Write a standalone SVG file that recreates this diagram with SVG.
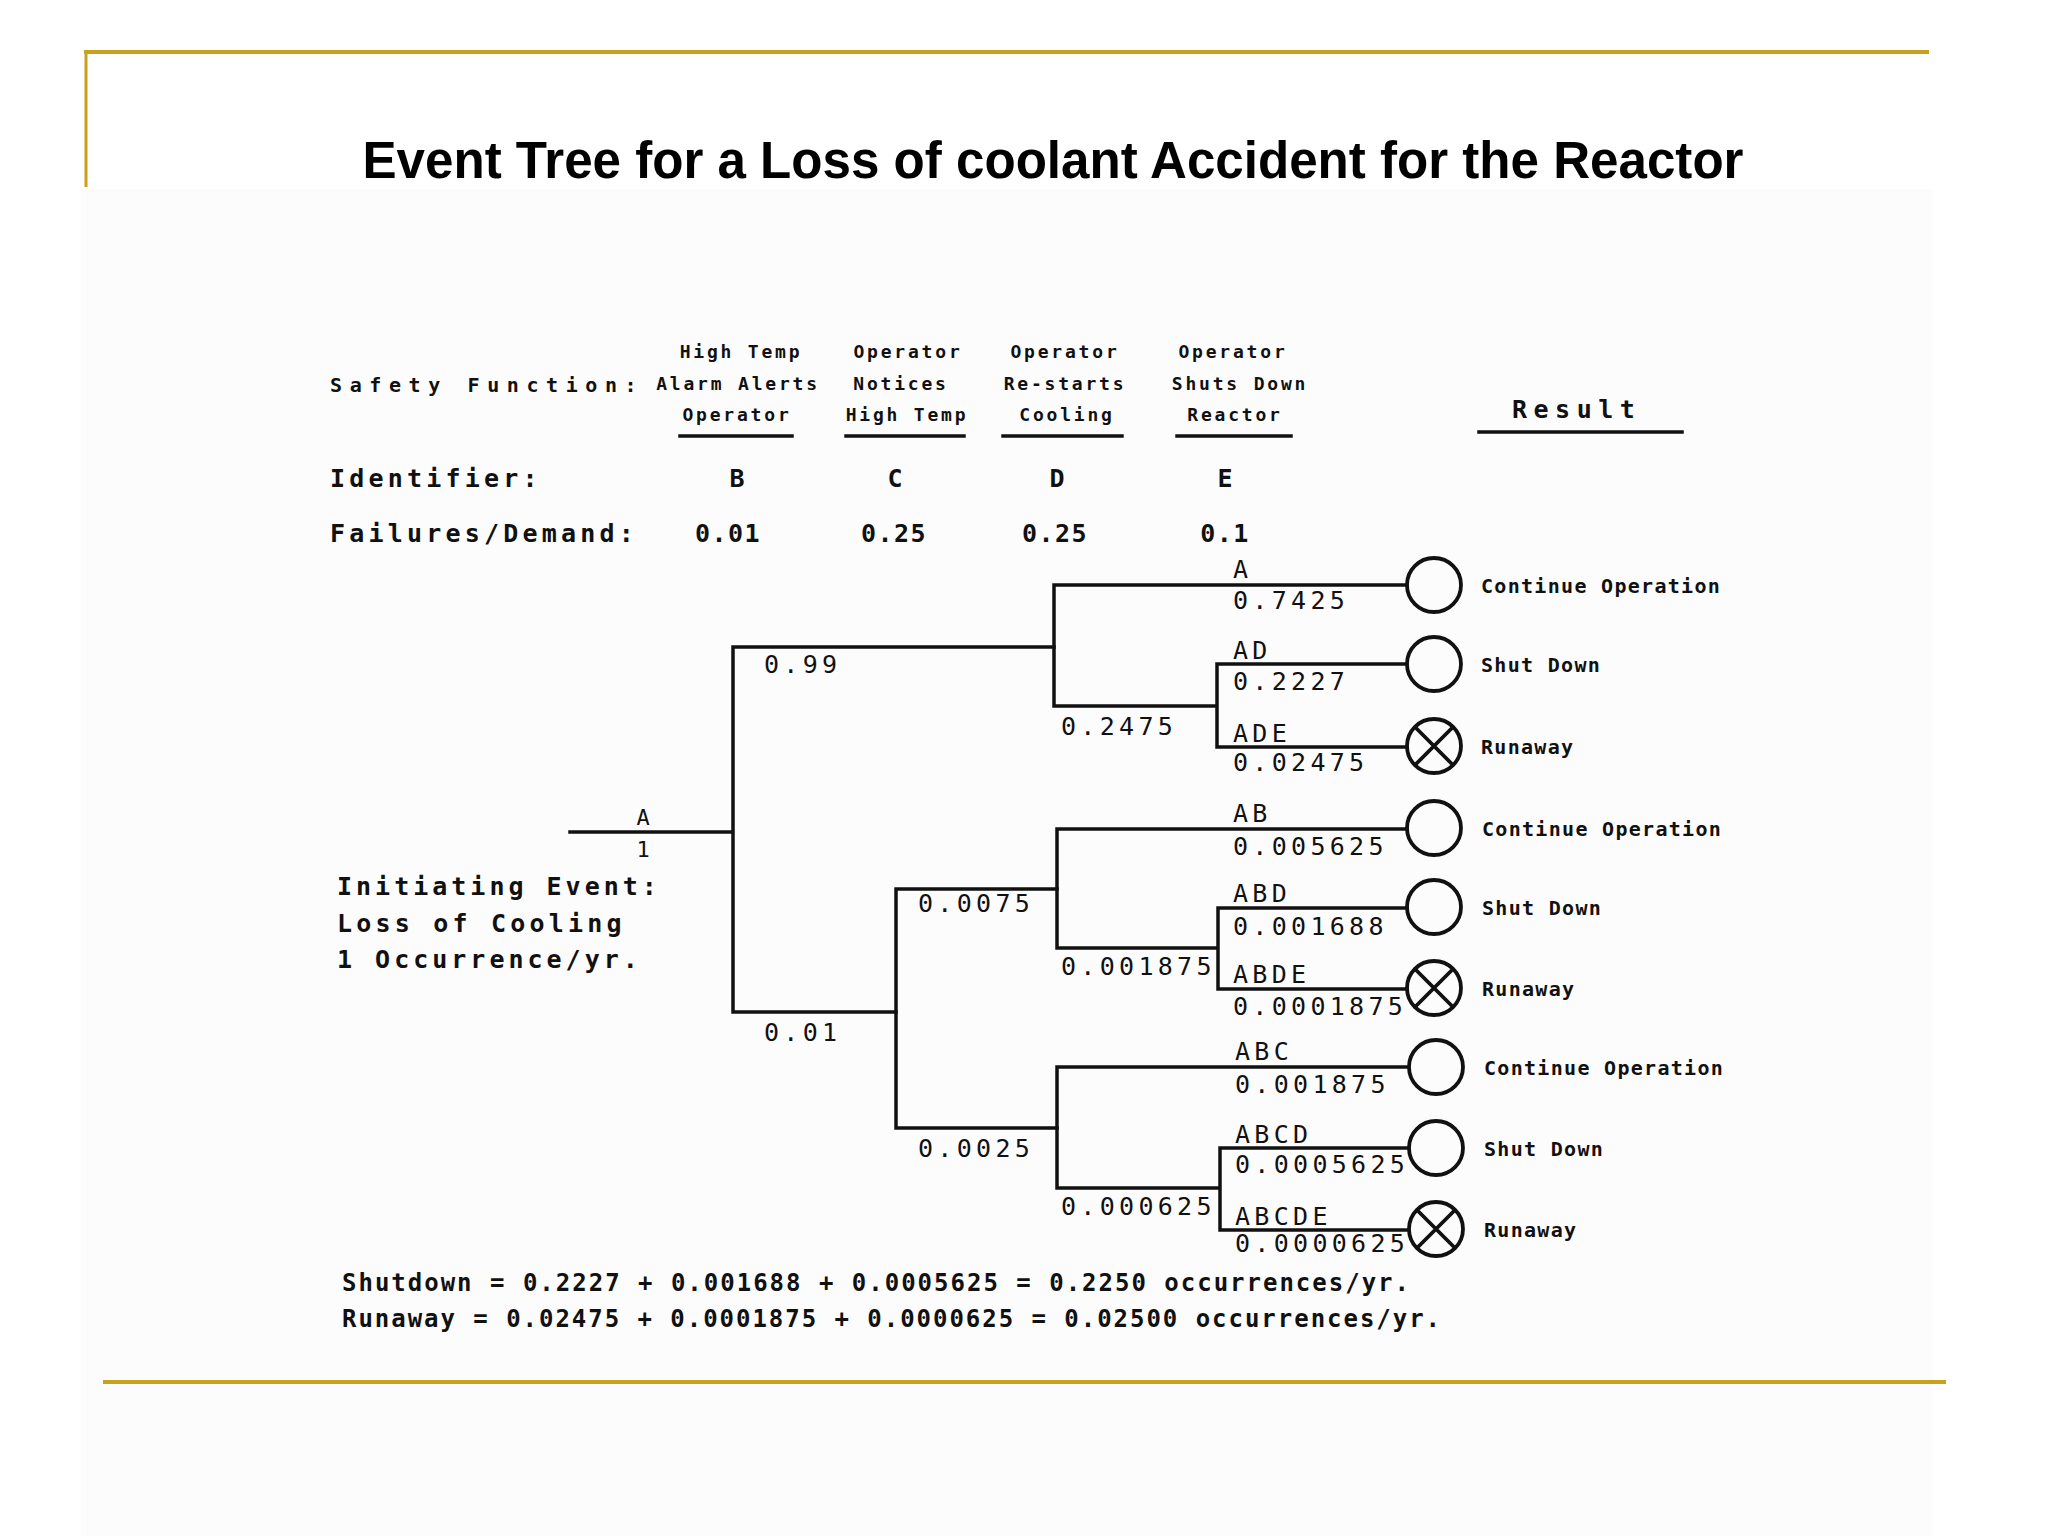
<svg xmlns="http://www.w3.org/2000/svg" width="2048" height="1536" viewBox="0 0 2048 1536">
<style>
.gold{stroke:#C8A21E;fill:none}
.ln{stroke:#111;stroke-width:3.5;fill:none;stroke-linecap:square}
.title{font-family:"Liberation Sans",Arial,sans-serif;font-weight:bold;font-size:51px;fill:#000}
.hd{font-family:"DejaVu Sans Mono",monospace;font-weight:bold;font-size:18px;letter-spacing:2.8px;fill:#111;text-anchor:middle}
.lab{font-family:"DejaVu Sans Mono",monospace;font-weight:bold;font-size:25px;fill:#111}
.num{font-family:"DejaVu Sans Mono",monospace;font-size:25px;letter-spacing:4.3px;fill:#111}
.res{font-family:"DejaVu Sans Mono",monospace;font-weight:bold;font-size:20px;letter-spacing:1.3px;fill:#111}
.frm{font-family:"DejaVu Sans Mono",monospace;font-weight:bold;font-size:24px;fill:#111}
.oc{stroke:#111;stroke-width:3.8;fill:none}
</style>
<defs>
<g id="okc"><circle class="oc" cx="0" cy="0" r="27"/></g>
<g id="runc"><circle class="oc" cx="0" cy="0" r="27"/><path class="oc" d="M-19,-19 L19,19 M19,-19 L-19,19"/></g>
</defs>
<rect x="0" y="0" width="2048" height="1536" fill="#ffffff"/>
<rect x="81" y="189" width="1852" height="1347" fill="#fdfcfd"/>
<g id="frame">
<line class="gold" x1="84" y1="52" x2="1929" y2="52" stroke-width="4"/>
<line class="gold" x1="86" y1="52" x2="86" y2="187" stroke-width="3"/>
<line class="gold" x1="103" y1="1382" x2="1946" y2="1382" stroke-width="4"/>
</g>
<g id="title"><text class="title" x="1053" y="178" text-anchor="middle" textLength="1381" lengthAdjust="spacingAndGlyphs">Event Tree for a Loss of coolant Accident for the Reactor</text></g>

<g id="header-labels">
<text class="lab" x="330" y="392" style="font-size:20px;letter-spacing:7.6px">Safety Function:</text>
<text class="lab" x="330" y="487" style="letter-spacing:4.2px">Identifier:</text>
<text class="lab" x="330" y="542" style="letter-spacing:4.2px">Failures/Demand:</text>
</g>
<g id="col-B">
<text class="hd" x="741" y="358">High Temp</text>
<text class="hd" x="738" y="390">Alarm Alerts</text>
<text class="hd" x="737" y="421">Operator</text>
<line class="ln" x1="680" y1="436" x2="792" y2="436"/>
<text class="lab" x="737" y="487" text-anchor="middle">B</text>
<text class="lab" x="728" y="542" text-anchor="middle" style="letter-spacing:1.5px">0.01</text>
</g>
<g id="col-C">
<text class="hd" x="908" y="358">Operator</text>
<text class="hd" x="901" y="390">Notices</text>
<text class="hd" x="907" y="421">High Temp</text>
<line class="ln" x1="846" y1="436" x2="964" y2="436"/>
<text class="lab" x="895" y="487" text-anchor="middle">C</text>
<text class="lab" x="894" y="542" text-anchor="middle" style="letter-spacing:1.5px">0.25</text>
</g>
<g id="col-D">
<text class="hd" x="1065" y="358">Operator</text>
<text class="hd" x="1065" y="390">Re-starts</text>
<text class="hd" x="1067" y="421">Cooling</text>
<line class="ln" x1="1003" y1="436" x2="1122" y2="436"/>
<text class="lab" x="1057" y="487" text-anchor="middle">D</text>
<text class="lab" x="1055" y="542" text-anchor="middle" style="letter-spacing:1.5px">0.25</text>
</g>
<g id="col-E">
<text class="hd" x="1233" y="358">Operator</text>
<text class="hd" x="1240" y="390">Shuts Down</text>
<text class="hd" x="1235" y="421">Reactor</text>
<line class="ln" x1="1177" y1="436" x2="1291" y2="436"/>
<text class="lab" x="1225" y="487" text-anchor="middle">E</text>
<text class="lab" x="1225" y="542" text-anchor="middle" style="letter-spacing:1.5px">0.1</text>
</g>
<g id="col-result">
<text class="lab" x="1512" y="418" style="letter-spacing:6.5px">Result</text>
<line class="ln" x1="1479" y1="432" x2="1682" y2="432"/>
</g>

<g id="initiating-event">
<text class="lab" x="337" y="895" style="letter-spacing:4px">Initiating Event:</text>
<text class="lab" x="337" y="932" style="letter-spacing:4.2px">Loss of Cooling</text>
<text class="lab" x="337" y="968" style="letter-spacing:4px">1 Occurrence/yr.</text>
<text class="num" x="643" y="825" text-anchor="middle" style="font-size:22px;letter-spacing:0">A</text>
<text class="num" x="643" y="857" text-anchor="middle" style="font-size:22px;letter-spacing:0">1</text>
</g>

<g id="connectors">
<path class="ln" d="M570,832 H733 M733,647 V1012 M733,647 H1054 M733,1012 H896"/>
<path class="ln" d="M1054,585 V706 M1054,585 H1407 M1054,706 H1217 M1217,664 V747 M1217,664 H1407 M1217,747 H1407"/>
<path class="ln" d="M896,889 V1128 M896,889 H1057 M896,1128 H1057"/>
<path class="ln" d="M1057,829 V948 M1057,829 H1407 M1057,948 H1218 M1218,908 V989 M1218,908 H1407 M1218,989 H1407"/>
<path class="ln" d="M1057,1067 V1188 M1057,1067 H1407 M1057,1188 H1220 M1220,1148 V1230 M1220,1148 H1407 M1220,1230 H1407"/>
</g>

<g id="branch-labels">
<text class="num" x="764" y="673">0.99</text>
<text class="num" x="764" y="1041">0.01</text>
<text class="num" x="1061" y="735">0.2475</text>
<text class="num" x="918" y="912">0.0075</text>
<text class="num" x="1061" y="975">0.001875</text>
<text class="num" x="918" y="1157">0.0025</text>
<text class="num" x="1061" y="1215">0.000625</text>
</g>

<g id="outcome-A">
<text class="num" x="1233" y="578">A</text><text class="num" x="1233" y="609">0.7425</text>
<use href="#okc" x="1434" y="585"/><text class="res" x="1481" y="593">Continue Operation</text>
</g>
<g id="outcome-AD">
<text class="num" x="1233" y="659">AD</text><text class="num" x="1233" y="690">0.2227</text>
<use href="#okc" x="1434" y="664"/><text class="res" x="1481" y="672">Shut Down</text>
</g>
<g id="outcome-ADE">
<text class="num" x="1233" y="742">ADE</text><text class="num" x="1233" y="771">0.02475</text>
<use href="#runc" x="1434" y="746"/><text class="res" x="1481" y="754">Runaway</text>
</g>
<g id="outcome-AB">
<text class="num" x="1233" y="822">AB</text><text class="num" x="1233" y="855">0.005625</text>
<use href="#okc" x="1434" y="828"/><text class="res" x="1482" y="836">Continue Operation</text>
</g>
<g id="outcome-ABD">
<text class="num" x="1233" y="902">ABD</text><text class="num" x="1233" y="935">0.001688</text>
<use href="#okc" x="1434" y="907"/><text class="res" x="1482" y="915">Shut Down</text>
</g>
<g id="outcome-ABDE">
<text class="num" x="1233" y="983">ABDE</text><text class="num" x="1233" y="1015">0.0001875</text>
<use href="#runc" x="1434" y="988"/><text class="res" x="1482" y="996">Runaway</text>
</g>
<g id="outcome-ABC">
<text class="num" x="1235" y="1060">ABC</text><text class="num" x="1235" y="1093">0.001875</text>
<use href="#okc" x="1436" y="1067"/><text class="res" x="1484" y="1075">Continue Operation</text>
</g>
<g id="outcome-ABCD">
<text class="num" x="1235" y="1143">ABCD</text><text class="num" x="1235" y="1173">0.0005625</text>
<use href="#okc" x="1436" y="1148"/><text class="res" x="1484" y="1156">Shut Down</text>
</g>
<g id="outcome-ABCDE">
<text class="num" x="1235" y="1225">ABCDE</text><text class="num" x="1235" y="1252">0.0000625</text>
<use href="#runc" x="1436" y="1229"/><text class="res" x="1484" y="1237">Runaway</text>
</g>

<g id="totals">
<text class="frm" x="342" y="1291" textLength="1067" lengthAdjust="spacing">Shutdown = 0.2227 + 0.001688 + 0.0005625 = 0.2250 occurrences/yr.</text>
<text class="frm" x="342" y="1327" textLength="1098" lengthAdjust="spacing">Runaway = 0.02475 + 0.0001875 + 0.0000625 = 0.02500 occurrences/yr.</text>
</g>
</svg>
